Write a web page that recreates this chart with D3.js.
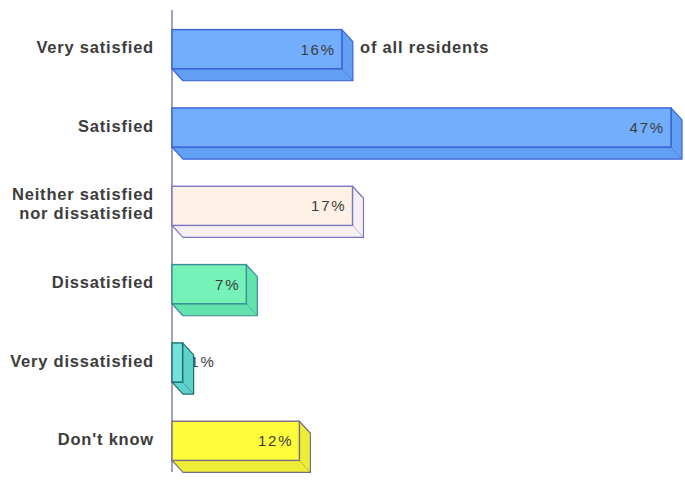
<!DOCTYPE html>
<html><head><meta charset="utf-8">
<script src="https://cdn.jsdelivr.net/npm/d3@7/dist/d3.min.js"></script>
<style>body{margin:0;background:#fff}svg{display:block}</style>
</head><body>
<script>
const categories = ["Very satisfied","Satisfied","Neither satisfied\nnor dissatisfied","Dissatisfied","Very dissatisfied","Don't know"];
const values = [16,47,17,7,1,12];
const valueLabels = ["16%","47%","17%","7%","1%","12%"];
const note = "of all residents";
const frontColors = ["#72aefb","#72aefb","#fdf1e6","#74f2b8","#74e2da","#fdfd3c"];
const sideColors  = ["#62a0f4","#62a0f4","#f6f0f2","#62e2ac","#5ed2ca","#eeee36"];
const strokeColors= ["#3a62d6","#3a62d6","#7a76c4","#3c8c96","#1f6e72","#7a6e86"];

const W=685,H=480;
const svg=d3.select("body").append("svg").attr("width",W).attr("height",H);
const x=d3.scaleLinear().domain([0,47]).range([172,671]);
const y=d3.scaleBand().domain(categories).range([10,480]).paddingInner(0.5).paddingOuter(0.25);
const dx=11, dy=12;
const font="'Liberation Sans',Arial,sans-serif";

// axis line
svg.append("line").attr("x1",172).attr("x2",172).attr("y1",10).attr("y2",472)
  .attr("stroke","#8a8ab0").attr("stroke-width",1.6);

const data=categories.map((c,i)=>({c,v:values[i],lab:valueLabels[i],i}));

function valueText(sel,xr,yc,txt){
  sel.append("text").attr("x",xr).attr("y",yc).attr("text-anchor","end")
    .attr("dominant-baseline","central").attr("font-family",font).attr("font-size",15)
    .attr("letter-spacing",1.8).attr("fill","#3c3c3c").text(txt);
}

// labels for narrow bars (drawn behind the bar)
data.forEach(d=>{
  const x1=x(d.v), yc=y(d.c)+y.bandwidth()/2;
  if(x1-x(0)<40) valueText(svg,x1+dx+22,yc-1,d.lab);
});

const g=svg.selectAll("g.bar").data(data).join("g").attr("class","bar");
g.each(function(d){
  const sel=d3.select(this);
  const x0=x(0), x1=x(d.v), y0=y(d.c), y1=y0+y.bandwidth();
  sel.append("polygon")
    .attr("points",[[x0,y1],[x1,y1],[x1,y0],[x1+dx,y0+dy],[x1+dx,y1+dy],[x0+dx,y1+dy]].map(p=>p.join(",")).join(" "))
    .attr("fill",sideColors[d.i]).attr("stroke",strokeColors[d.i]).attr("stroke-width",1.2).attr("stroke-linejoin","round");
  sel.append("line").attr("x1",x1).attr("y1",y1).attr("x2",x1+dx).attr("y2",y1+dy)
    .attr("stroke",strokeColors[d.i]).attr("stroke-width",0.8).attr("opacity",0.6);
  sel.append("rect").attr("x",x0).attr("y",y0).attr("width",x1-x0).attr("height",y1-y0)
    .attr("fill",frontColors[d.i]).attr("stroke",strokeColors[d.i]).attr("stroke-width",1.4);
  if(x1-x0>=40) valueText(sel,x1-6,(y0+y1)/2,d.lab);
});

// category labels
data.forEach(d=>{
  const lines=d.c.split("\n");
  const yc=y(d.c)+y.bandwidth()/2;
  const t=svg.append("text").attr("text-anchor","end").attr("font-family",font)
    .attr("font-size",16.5).attr("font-weight","bold").attr("letter-spacing",0.8).attr("fill","#3c3c3c");
  lines.forEach((ln,k)=>{
    t.append("tspan").attr("x",154).attr("y",yc-2+(k-(lines.length-1)/2)*19)
     .attr("dominant-baseline","central").text(ln);
  });
});

// note
svg.append("text").attr("x",360).attr("y",y(categories[0])+y.bandwidth()/2-2)
  .attr("dominant-baseline","central").attr("font-family",font).attr("font-size",16.5)
  .attr("font-weight","bold").attr("letter-spacing",0.8).attr("fill","#3c3c3c").text(note);
</script>
</body></html>
